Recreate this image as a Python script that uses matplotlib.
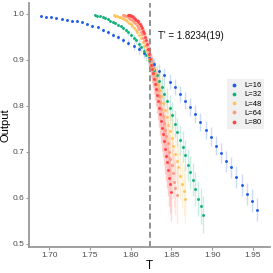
import matplotlib
matplotlib.use("Agg")
import matplotlib.pyplot as plt

plt.rcParams['font.family'] = ['Liberation Sans', 'DejaVu Sans']

labels = ["L=16", "L=32", "L=48", "L=64", "L=80"]
colors = ["#1d5be6", "#12b07c", "#ffc45e", "#ff9a82", "#ff4545"]

T_16 = [1.6900, 1.6963, 1.7026, 1.7089, 1.7152, 1.7215, 1.7279, 1.7342, 1.7405, 1.7468,
        1.7531, 1.7594, 1.7657, 1.7720, 1.7783, 1.7846, 1.7910, 1.7973, 1.8036, 1.8099,
        1.8162, 1.8225, 1.8288, 1.8351, 1.8414, 1.8477, 1.8540, 1.8604, 1.8667, 1.8730,
        1.8793, 1.8856, 1.8919, 1.8982, 1.9045, 1.9108, 1.9171, 1.9235, 1.9298, 1.9361,
        1.9424, 1.9487, 1.9550]
T_32 = [1.7560, 1.7592, 1.7623, 1.7655, 1.7687, 1.7718, 1.7750, 1.7782, 1.7813, 1.7845,
        1.7877, 1.7908, 1.7940, 1.7972, 1.8003, 1.8035, 1.8067, 1.8098, 1.8130, 1.8162,
        1.8193, 1.8225, 1.8257, 1.8288, 1.8320, 1.8352, 1.8383, 1.8415, 1.8447, 1.8478,
        1.8510, 1.8542, 1.8573, 1.8605, 1.8637, 1.8668, 1.8700, 1.8732, 1.8763, 1.8795,
        1.8827, 1.8858, 1.8890]
T_48 = [1.7790, 1.7811, 1.7832, 1.7853, 1.7874, 1.7895, 1.7916, 1.7937, 1.7958, 1.7979,
        1.8000, 1.8020, 1.8041, 1.8062, 1.8083, 1.8104, 1.8125, 1.8146, 1.8167, 1.8188,
        1.8209, 1.8230, 1.8251, 1.8272, 1.8293, 1.8314, 1.8335, 1.8356, 1.8377, 1.8398,
        1.8419, 1.8440, 1.8460, 1.8481, 1.8502, 1.8523, 1.8544, 1.8565, 1.8586, 1.8607,
        1.8628, 1.8649, 1.8670]
T_64 = [1.7900, 1.7916, 1.7932, 1.7948, 1.7963, 1.7979, 1.7995, 1.8011, 1.8027, 1.8043,
        1.8058, 1.8074, 1.8090, 1.8106, 1.8122, 1.8138, 1.8153, 1.8169, 1.8185, 1.8201,
        1.8217, 1.8233, 1.8248, 1.8264, 1.8280, 1.8296, 1.8312, 1.8328, 1.8343, 1.8359,
        1.8375, 1.8391, 1.8407, 1.8423, 1.8438, 1.8454, 1.8470, 1.8486, 1.8502, 1.8518,
        1.8533, 1.8549, 1.8565]
T_80 = [1.7970, 1.7983, 1.7995, 1.8008, 1.8020, 1.8033, 1.8046, 1.8058, 1.8071, 1.8084,
        1.8096, 1.8109, 1.8121, 1.8134, 1.8147, 1.8159, 1.8172, 1.8185, 1.8197, 1.8210,
        1.8222, 1.8235, 1.8248, 1.8260, 1.8273, 1.8285, 1.8298, 1.8311, 1.8323, 1.8336,
        1.8349, 1.8361, 1.8374, 1.8386, 1.8399, 1.8412, 1.8424, 1.8437, 1.8450, 1.8462,
        1.8475, 1.8487, 1.8500]

Y_16 = [0.995, 0.993, 0.992, 0.991, 0.989, 0.987, 0.985, 0.984, 0.981, 0.977,
        0.974, 0.970, 0.965, 0.959, 0.954, 0.949, 0.943, 0.937, 0.930, 0.923,
        0.914, 0.903, 0.890, 0.876, 0.867, 0.852, 0.840, 0.826, 0.811, 0.797,
        0.782, 0.765, 0.747, 0.733, 0.713, 0.698, 0.679, 0.666, 0.645, 0.627,
        0.609, 0.594, 0.574]
Y_32 = [0.996, 0.995, 0.994, 0.992, 0.990, 0.988, 0.985, 0.982, 0.979, 0.976,
        0.972, 0.968, 0.964, 0.959, 0.954, 0.948, 0.942, 0.935, 0.927, 0.919,
        0.910, 0.900, 0.888, 0.877, 0.866, 0.853, 0.840, 0.826, 0.811, 0.795,
        0.779, 0.761, 0.743, 0.726, 0.711, 0.692, 0.671, 0.655, 0.639, 0.619,
        0.598, 0.582, 0.563]
Y_48 = [0.996, 0.995, 0.994, 0.993, 0.992, 0.990, 0.988, 0.986, 0.983, 0.980,
        0.977, 0.973, 0.969, 0.964, 0.959, 0.953, 0.946, 0.938, 0.930, 0.921,
        0.911, 0.901, 0.889, 0.879, 0.869, 0.857, 0.846, 0.833, 0.820, 0.805,
        0.791, 0.775, 0.759, 0.744, 0.730, 0.713, 0.695, 0.680, 0.666, 0.648,
        0.629, 0.615, 0.598]
Y_64 = [0.996, 0.996, 0.995, 0.994, 0.993, 0.991, 0.989, 0.987, 0.985, 0.982,
        0.979, 0.975, 0.971, 0.966, 0.961, 0.955, 0.948, 0.940, 0.931, 0.922,
        0.912, 0.901, 0.889, 0.879, 0.869, 0.858, 0.847, 0.835, 0.821, 0.807,
        0.793, 0.778, 0.762, 0.747, 0.734, 0.718, 0.699, 0.685, 0.671, 0.654,
        0.635, 0.621, 0.605]
Y_80 = [0.997, 0.996, 0.996, 0.995, 0.994, 0.993, 0.991, 0.989, 0.987, 0.984,
        0.981, 0.977, 0.973, 0.968, 0.963, 0.957, 0.950, 0.942, 0.933, 0.923,
        0.912, 0.901, 0.889, 0.879, 0.870, 0.859, 0.848, 0.836, 0.823, 0.810,
        0.796, 0.781, 0.766, 0.751, 0.739, 0.723, 0.705, 0.691, 0.678, 0.661,
        0.643, 0.629, 0.613]

E_16 = [0.001, 0.001, 0.001, 0.001, 0.001, 0.002, 0.002, 0.002, 0.002, 0.003,
        0.003, 0.003, 0.004, 0.005, 0.005, 0.006, 0.007, 0.008, 0.009, 0.010,
        0.011, 0.012, 0.013, 0.014, 0.015, 0.016, 0.017, 0.017, 0.018, 0.019,
        0.019, 0.020, 0.020, 0.021, 0.021, 0.022, 0.022, 0.023, 0.023, 0.024,
        0.024, 0.025, 0.025]
E_32 = [0.001, 0.001, 0.001, 0.001, 0.002, 0.002, 0.002, 0.002, 0.003, 0.003,
        0.003, 0.004, 0.004, 0.005, 0.006, 0.007, 0.008, 0.009, 0.010, 0.012,
        0.014, 0.016, 0.018, 0.020, 0.022, 0.023, 0.025, 0.026, 0.027, 0.028,
        0.029, 0.030, 0.031, 0.032, 0.033, 0.034, 0.034, 0.035, 0.036, 0.037,
        0.038, 0.039, 0.040]
E_48 = [0.002, 0.002, 0.002, 0.002, 0.002, 0.003, 0.003, 0.003, 0.003, 0.004,
        0.004, 0.005, 0.005, 0.006, 0.007, 0.008, 0.009, 0.010, 0.012, 0.014,
        0.016, 0.018, 0.021, 0.024, 0.026, 0.028, 0.030, 0.032, 0.034, 0.036,
        0.038, 0.040, 0.041, 0.043, 0.044, 0.046, 0.047, 0.048, 0.050, 0.051,
        0.052, 0.053, 0.055]
E_64 = [0.003, 0.003, 0.003, 0.003, 0.003, 0.004, 0.004, 0.004, 0.005, 0.005,
        0.006, 0.006, 0.007, 0.008, 0.009, 0.010, 0.011, 0.013, 0.015, 0.017,
        0.019, 0.021, 0.024, 0.027, 0.029, 0.031, 0.033, 0.035, 0.037, 0.039,
        0.041, 0.043, 0.045, 0.046, 0.048, 0.049, 0.051, 0.052, 0.054, 0.055,
        0.056, 0.058, 0.060]
E_80 = [0.004, 0.004, 0.004, 0.004, 0.004, 0.005, 0.005, 0.005, 0.006, 0.006,
        0.007, 0.007, 0.008, 0.009, 0.010, 0.011, 0.013, 0.015, 0.017, 0.019,
        0.021, 0.023, 0.026, 0.029, 0.031, 0.033, 0.035, 0.037, 0.039, 0.041,
        0.043, 0.045, 0.047, 0.049, 0.050, 0.052, 0.054, 0.055, 0.057, 0.058,
        0.060, 0.061, 0.063]

T_crit = 1.8234
crit_label = "T' = 1.8234(19)"
x_ticks = [1.70, 1.75, 1.80, 1.85, 1.90, 1.95]
y_ticks = [0.5, 0.6, 0.7, 0.8, 0.9, 1.0]

fig = plt.figure(figsize=(2.73, 2.73), dpi=100)
ax = fig.add_axes([0.107, 0.095, 0.882, 0.894])

series = [(T_16, Y_16, E_16), (T_32, Y_32, E_32), (T_48, Y_48, E_48),
          (T_64, Y_64, E_64), (T_80, Y_80, E_80)]
for (t, y, e), c, lab in zip(series, colors, labels):
    ax.errorbar(t, y, yerr=e, fmt='none', ecolor=c, alpha=0.22, elinewidth=1.0, capsize=0, zorder=2)
    ax.plot(t, y, 'o', color=c, markersize=2.1, markeredgewidth=0, label=lab, zorder=3)

ax.axvline(T_crit, color='#888888', lw=1.3, linestyle=(0, (3.3, 1.8)), zorder=1)
ax.text(1.8331, 0.952, crit_label, fontsize=7, va='center', ha='left', color='#111111')

ax.set_xlim(1.6755, 1.971)
ax.set_ylim(0.493, 1.023)
ax.set_xticks(x_ticks)
ax.set_xticklabels([f"{v:.2f}" for v in x_ticks])
ax.set_yticks(y_ticks)
ax.set_yticklabels([f"{v:.1f}" for v in y_ticks])

for s in ['top', 'right']:
    ax.spines[s].set_visible(False)
for s in ['left', 'bottom']:
    ax.spines[s].set_color('#999999')
    ax.spines[s].set_linewidth(1.3)
ax.tick_params(axis='both', labelsize=6, colors='#4d4d4d', length=2.2, width=0.8, pad=1.5)
ax.tick_params(axis='both', color='#999999')

ax.set_xlabel("T", fontsize=8.5)
ax.set_ylabel("Output", fontsize=8)
ax.xaxis.set_label_coords(0.5, -0.052)
ax.yaxis.set_label_coords(-0.078, 0.5)

leg = ax.legend(loc='upper right', bbox_to_anchor=(0.992, 0.705), fontsize=5.5,
                frameon=True, facecolor='#f0f0f0', edgecolor='none', framealpha=1,
                handlelength=1.0, handletextpad=0.8, labelspacing=0.25,
                borderpad=0.4, markerscale=1.3)
leg.get_frame().set_boxstyle('square', pad=0)

fig.savefig("out.png", dpi=100)
